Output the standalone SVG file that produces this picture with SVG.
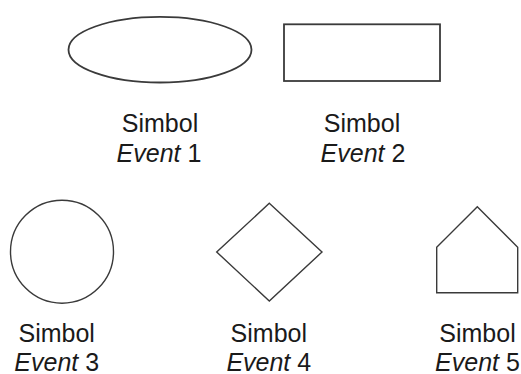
<svg xmlns="http://www.w3.org/2000/svg" width="521" height="374" viewBox="0 0 521 374">
<style>
.shape{fill:none;stroke:#3a3a3a;stroke-width:1.4}
.lbl{font-family:"Liberation Sans",Arial,sans-serif;font-size:25px;fill:#1a1a1a;text-anchor:middle}
.it{font-style:italic}
</style>
<rect width="521" height="374" fill="#ffffff"/>
<g id="event1">
<ellipse class="shape" cx="160" cy="49.7" rx="91.5" ry="32.8" style="stroke-width:1.8"/>
<text class="lbl" x="160" y="132">Simbol</text>
<text class="lbl" x="159" y="162"><tspan class="it">Event</tspan> 1</text>
</g>
<g id="event2">
<rect class="shape" x="284" y="24.3" width="156" height="56.7" style="stroke-width:1.8"/>
<text class="lbl" x="362" y="132">Simbol</text>
<text class="lbl" x="363" y="162"><tspan class="it">Event</tspan> 2</text>
</g>
<g id="event3">
<circle class="shape" cx="62" cy="251.7" r="51.5"/>
<text class="lbl" x="56.7" y="341.5">Simbol</text>
<text class="lbl" x="56.7" y="370.5"><tspan class="it">Event</tspan> 3</text>
</g>
<g id="event4">
<polygon class="shape" points="269.3,203.3 322,252 269.3,301 216.7,252"/>
<text class="lbl" x="268.8" y="341.5">Simbol</text>
<text class="lbl" x="268.8" y="370.5"><tspan class="it">Event</tspan> 4</text>
</g>
<g id="event5">
<polygon class="shape" points="477.3,206.7 517.7,247.3 517.7,292.7 436.7,292.7 436.7,247.3"/>
<text class="lbl" x="477.5" y="341.5">Simbol</text>
<text class="lbl" x="477.5" y="370.5"><tspan class="it">Event</tspan> 5</text>
</g>
<g id="connectors"/>
</svg>
